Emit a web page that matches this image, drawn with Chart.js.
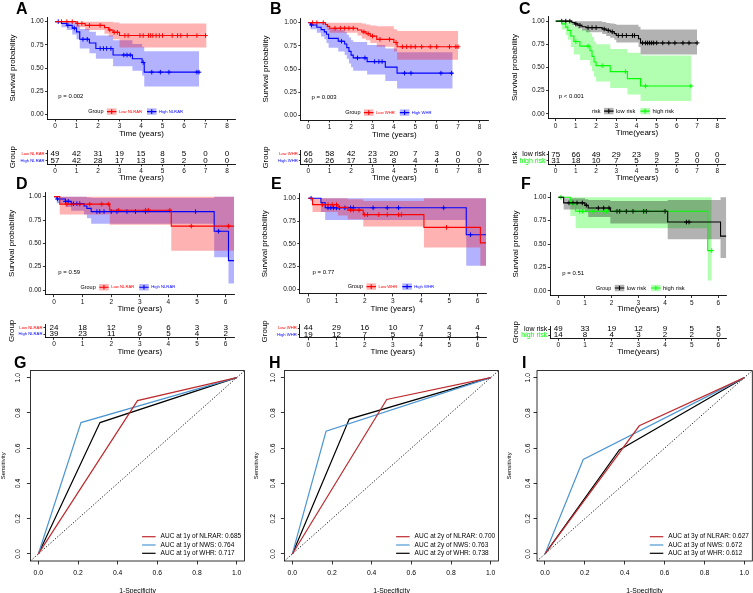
<!DOCTYPE html>
<html>
<head>
<meta charset="utf-8">
<title>Survival curves and time-dependent ROC</title>
<script src="https://cdn.jsdelivr.net/npm/chart.js@4.4.1/dist/chart.umd.min.js"></script>
<style>
  body { margin: 0; background: #fff; }
  #page { position: relative; width: 753px; height: 593px; overflow: hidden; background: #fff; }
  #page canvas { position: absolute; }
  .tag { position: absolute; font: bold 16px "Liberation Sans", Arial, sans-serif; line-height: 1; color: #000; }
</style>
</head>
<body>
<div id="page"></div>
<script>
// ===== data =====
const xTicks8 = [0, 1, 2, 3, 4, 5, 6, 7, 8];
const xTicks6 = [0, 1, 2, 3, 4, 5, 6];
const survTicks = [0, 0.25, 0.5, 0.75, 1];
const rocTicks = [0, 0.2, 0.4, 0.6, 0.8, 1];

// A: NLRAR groups
const aGroups = ['Low NLRAR', 'High NLRAR'];
const aLoT = [0, 0.98, 1.4, 2.3, 2.5, 2.7, 3.0, 7.05];
const aLoS = [1, 0.98, 0.96, 0.935, 0.91, 0.885, 0.85, 0.85];
const aLoU = [1, 1, 1, 1, 1, 0.99, 0.98, 0.98];
const aLoL = [1, 0.94, 0.91, 0.87, 0.84, 0.81, 0.72, 0.72];
const aLoC = [0.3, 0.55, 0.8, 1.05, 1.25, 1.6, 2.1, 2.55, 2.75, 2.9, 3.25, 3.4, 3.95, 4.1, 4.35, 4.45, 4.55, 4.7, 4.85, 5.0, 5.45, 5.7, 5.85, 6.15, 6.6, 7.0];
const aHiT = [0, 0.3, 0.55, 0.8, 1.0, 1.15, 1.6, 1.9, 2.7, 3.6, 4.05, 4.15, 6.7];
const aHiS = [1, 0.98, 0.96, 0.93, 0.89, 0.81, 0.77, 0.71, 0.64, 0.6, 0.56, 0.455, 0.455];
const aHiU = [1, 1, 1, 0.99, 0.97, 0.92, 0.89, 0.85, 0.8, 0.76, 0.73, 0.68, 0.68];
const aHiL = [1, 0.94, 0.91, 0.86, 0.81, 0.71, 0.66, 0.6, 0.52, 0.47, 0.42, 0.3, 0.3];
const aHiC = [0.15, 0.6, 0.9, 1.3, 1.5, 2.1, 2.25, 2.4, 2.6, 3.2, 3.35, 3.5, 4.1, 4.5, 4.9, 5.3, 6.6, 6.7];
const aRiskLo = [49, 42, 31, 19, 15, 8, 5, 0, 0];
const aRiskHi = [57, 42, 28, 17, 13, 3, 2, 0, 0];

// B: WHR groups
const bGroups = ['Low WHR', 'High WHR'];
const bLoT = [0, 0.8, 0.9, 1.0, 2.3, 2.5, 2.7, 2.9, 3.2, 4.0, 4.15, 7.0];
const bLoS = [1, 0.98, 0.96, 0.94, 0.92, 0.9, 0.88, 0.855, 0.82, 0.785, 0.74, 0.74];
const bLoU = [1, 1, 1, 1, 1, 0.99, 0.98, 0.97, 0.96, 0.93, 0.91, 0.91];
const bLoL = [1, 0.95, 0.92, 0.89, 0.86, 0.83, 0.81, 0.78, 0.74, 0.69, 0.6, 0.6];
const bLoC = [0.2, 0.4, 0.7, 1.25, 1.5, 1.7, 1.9, 2.1, 2.6, 2.8, 3.0, 3.35, 3.8, 4.1, 4.4, 4.6, 4.8, 5.0, 5.3, 5.7, 6.0, 6.6, 6.9, 7.0];
const bHiT = [0, 0.1, 0.4, 0.6, 0.75, 0.85, 0.95, 1.4, 1.7, 1.8, 1.9, 2.0, 2.1, 2.75, 3.6, 4.15, 6.75];
const bHiS = [1, 0.975, 0.95, 0.925, 0.9, 0.875, 0.83, 0.8, 0.77, 0.73, 0.69, 0.65, 0.62, 0.58, 0.52, 0.455, 0.455];
const bHiU = [1, 1, 1, 1, 0.99, 0.97, 0.94, 0.92, 0.9, 0.87, 0.84, 0.81, 0.79, 0.76, 0.72, 0.68, 0.68];
const bHiL = [1, 0.93, 0.89, 0.85, 0.82, 0.78, 0.73, 0.69, 0.65, 0.61, 0.56, 0.52, 0.48, 0.44, 0.37, 0.29, 0.29];
const bHiC = [0.15, 1.55, 2.3, 2.65, 3.1, 3.3, 3.45, 4.5, 4.8, 6.2, 6.7];
const bRiskLo = [66, 58, 42, 23, 20, 7, 3, 0, 0];
const bRiskHi = [40, 26, 17, 13, 8, 4, 4, 0, 0];

// C: risk score groups
const cGroups = ['low risk', 'high risk'];
const cLoT = [0, 0.8, 0.95, 1.1, 1.3, 1.5, 2.3, 2.5, 2.7, 2.9, 3.0, 4.1, 4.2, 7.0];
const cLoS = [1, 0.985, 0.97, 0.955, 0.94, 0.93, 0.915, 0.9, 0.885, 0.865, 0.845, 0.81, 0.765, 0.765];
const cLoU = [1, 1, 1, 1, 1, 1, 0.99, 0.98, 0.975, 0.97, 0.96, 0.94, 0.91, 0.91];
const cLoL = [1, 0.96, 0.94, 0.92, 0.9, 0.88, 0.86, 0.84, 0.82, 0.8, 0.77, 0.72, 0.64, 0.64];
const cLoC = [0.3, 0.5, 0.7, 1.0, 1.2, 1.6, 1.8, 2.0, 2.4, 2.6, 2.8, 3.1, 3.3, 3.5, 3.8, 3.9, 4.3, 4.45, 4.55, 4.65, 4.75, 4.85, 5.0, 5.3, 5.6, 5.9, 6.3, 6.6, 7.0];
const cHiT = [0, 0.3, 0.5, 0.6, 0.75, 0.9, 1.2, 1.7, 1.8, 1.9, 2.0, 2.7, 3.55, 4.2, 6.7];
const cHiS = [1, 0.97, 0.935, 0.9, 0.84, 0.78, 0.73, 0.68, 0.62, 0.56, 0.52, 0.455, 0.38, 0.3, 0.3];
const cHiU = [1, 1, 1, 1, 0.98, 0.94, 0.91, 0.87, 0.83, 0.78, 0.75, 0.7, 0.66, 0.63, 0.63];
const cHiL = [1, 0.91, 0.85, 0.8, 0.72, 0.64, 0.58, 0.52, 0.46, 0.4, 0.35, 0.28, 0.21, 0.14, 0.14];
const cHiC = [1.0, 1.6, 2.3, 3.45, 4.45, 6.7];
const cRiskLo = [75, 66, 49, 29, 23, 9, 5, 0, 0];
const cRiskHi = [31, 18, 10, 7, 5, 2, 2, 0, 0];

// D: NLRAR groups, validation set
const dLoT = [0, 0.2, 1.95, 4.1, 6.3];
const dLoS = [1, 0.92, 0.855, 0.685, 0.685];
const dLoU = [1, 1, 1, 1, 1];
const dLoL = [1, 0.81, 0.7, 0.42, 0.42];
const dLoC = [0.45, 0.62, 0.9, 1.25, 1.67, 1.9, 2.25, 3.2, 3.3, 4.05, 4.8, 6.1];
const dHiT = [0, 0.1, 0.4, 0.6, 1.05, 1.15, 1.3, 5.6, 6.1, 6.3];
const dHiS = [1, 0.975, 0.95, 0.925, 0.9, 0.875, 0.84, 0.63, 0.315, 0.315];
const dHiU = [1, 1, 1, 1, 1, 0.99, 0.985, 1, 1, 1];
const dHiL = [1, 0.93, 0.89, 0.85, 0.81, 0.77, 0.71, 0.35, 0.07, 0.07];
const dHiC = [0.12, 0.4, 0.5, 0.68, 0.8, 0.9, 1.5, 1.6, 1.75, 2.0, 2.2, 2.55, 2.85, 3.2, 4.95, 5.75];
const dRiskLo = [24, 18, 12, 9, 6, 3, 3];
const dRiskHi = [39, 23, 11, 6, 5, 4, 2];

// E: WHR groups, validation set
const eLoT = [0, 0.15, 1.05, 1.4, 1.95, 4.1, 6.1, 6.3];
const eLoS = [1, 0.93, 0.9, 0.87, 0.82, 0.68, 0.51, 0.51];
const eLoU = [1, 1, 1, 0.99, 0.97, 1, 1, 1];
const eLoL = [1, 0.85, 0.81, 0.77, 0.69, 0.46, 0.26, 0.26];
const eLoC = [0.5, 0.7, 0.85, 1.0, 1.5, 1.6, 1.8, 2.0, 2.1, 2.5, 2.8, 3.2, 3.3, 4.9];
const eHiT = [0, 0.45, 0.6, 5.6, 6.3];
const eHiS = [1, 0.95, 0.895, 0.6, 0.6];
const eHiU = [1, 1, 1, 1, 1];
const eHiL = [1, 0.85, 0.76, 0.26, 0.26];
const eHiC = [0.1, 0.7, 0.8, 0.9, 1.0, 1.1, 1.3, 1.5, 1.6, 2.3, 2.8, 3.2, 4.8, 5.75];
const eRiskLo = [44, 29, 16, 10, 7, 4, 4];
const eRiskHi = [19, 12, 7, 5, 4, 3, 1];

// F: risk score groups, validation set
const fLoT = [0, 0.2, 1.0, 1.12, 1.95, 4.1, 6.08, 6.3];
const fLoS = [1, 0.94, 0.915, 0.885, 0.85, 0.735, 0.585, 0.585];
const fLoU = [1, 0.99, 0.98, 0.97, 0.96, 0.97, 1, 1];
const fLoL = [1, 0.87, 0.84, 0.79, 0.72, 0.55, 0.35, 0.35];
const fLoC = [0.4, 0.55, 0.7, 0.9, 1.05, 1.5, 1.7, 1.9, 2.2, 2.3, 2.55, 2.8, 3.2, 3.3, 4.0, 4.8, 4.9];
const fHiT = [0, 0.45, 0.65, 5.6, 5.75];
const fHiS = [1, 0.93, 0.85, 0.43, 0.43];
const fHiU = [1, 1, 1, 1, 1];
const fHiL = [1, 0.8, 0.67, 0.11, 0.11];
const fHiC = [0.1, 0.8, 0.9, 1.3, 1.7, 1.8, 2.9, 3.25, 5.75];
const fRiskLo = [49, 33, 19, 12, 9, 5, 5];
const fRiskHi = [14, 8, 4, 3, 2, 2, 0];

// G-I: ROC elbows, order NLRAR, NWS, WHR
const rocNames = ['NLRAR', 'NWS', 'WHR'];
const gFpr = [0.5, 0.215, 0.311];
const gTpr = [0.87, 0.745, 0.745];
const gAuc = ['0.685', '0.764', '0.717'];
const hFpr = [0.476, 0.17, 0.287];
const hTpr = [0.876, 0.696, 0.765];
const hAuc = ['0.700', '0.763', '0.738'];
const iFpr = [0.473, 0.192, 0.373];
const iTpr = [0.727, 0.536, 0.59];
const iAuc = ['0.627', '0.672', '0.612'];

// ===== helpers =====
const FONT = '"Liberation Sans", Arial, sans-serif';
const page = document.getElementById('page');
const RED = {line: '#FF0000', band: 'rgba(255,0,0,0.3)'};
const BLUE = {line: '#0000FF', band: 'rgba(0,0,255,0.3)'};
const BLACK = {line: '#000000', band: 'rgba(0,0,0,0.3)'};
const GREEN = {line: '#00FF00', band: 'rgba(0,255,0,0.3)'};
const rocColors = ['#BE2A2E', '#4D96D1', '#000000'];
const rocLim = [-0.04, 1.04];

function addCanvas(x, y, w, h) {
  const c = document.createElement('canvas');
  c.width = w; c.height = h;
  c.style.left = x + 'px'; c.style.top = y + 'px';
  c.style.width = w + 'px'; c.style.height = h + 'px';
  page.appendChild(c);
  return c;
}
const xy = (xs, ys) => xs.map((x, i) => ({x, y: ys[i]}));
function stepAt(ts, ss, x) {
  let v = ss[0];
  for (let i = 0; i < ts.length; i++) if (ts[i] <= x) v = ss[i];
  return v;
}
function curve(t, s, u, l, c, col, label, legendColor, tableColor) {
  return {t, s, u, l, c, color: col.line, band: col.band, label, legendColor, tableColor};
}

// legend drawn inside the plot, like survminer's legend at the bottom
const kmLegend = {
  id: 'kmLegend',
  afterDatasetsDraw(chart, args, o) {
    if (!o.items) return;
    const {ctx, chartArea: a} = chart;
    const y = chart.scales.y.getPixelForValue(o.y);
    ctx.save();
    ctx.textBaseline = 'middle';
    ctx.font = o.titleSize + 'px ' + FONT;
    const tw = ctx.measureText(o.title).width;
    ctx.font = o.size + 'px ' + FONT;
    const key = 9.5, gap = 2.5;
    const widths = o.items.map(it => ctx.measureText(it.label).width);
    const total = tw + gap + widths.reduce((s, w) => s + key + gap + w + gap * 2, 0);
    let x = (a.left + a.right) / 2 + o.dx - total / 2;
    ctx.fillStyle = '#000';
    ctx.font = o.titleSize + 'px ' + FONT;
    ctx.fillText(o.title, x, y);
    x += tw + gap + 1;
    o.items.forEach((it, i) => {
      ctx.fillStyle = it.band;
      ctx.fillRect(x, y - 3.2, key, 6.4);
      ctx.strokeStyle = it.color;
      ctx.lineWidth = 1.1;
      ctx.beginPath();
      ctx.moveTo(x, y); ctx.lineTo(x + key, y);
      ctx.moveTo(x + key / 2, y - 2.3); ctx.lineTo(x + key / 2, y + 2.3);
      ctx.stroke();
      x += key + gap;
      ctx.fillStyle = it.text;
      ctx.font = o.size + 'px ' + FONT;
      ctx.fillText(it.label, x, y);
      x += widths[i] + gap * 2;
    });
    ctx.restore();
  }
};

const pLabel = {
  id: 'pLabel',
  afterDatasetsDraw(chart, args, o) {
    if (!o.text) return;
    const {ctx, scales} = chart;
    ctx.save();
    ctx.font = o.size + 'px ' + FONT;
    ctx.fillStyle = '#000';
    ctx.textBaseline = 'middle';
    ctx.fillText(o.text, scales.x.getPixelForValue(o.x), scales.y.getPixelForValue(o.y));
    ctx.restore();
  }
};

const riskNumbers = {
  id: 'riskNumbers',
  afterDatasetsDraw(chart, args, o) {
    const {ctx} = chart;
    ctx.save();
    ctx.font = o.size + 'px ' + FONT;
    ctx.fillStyle = '#000';
    ctx.textAlign = 'center';
    ctx.textBaseline = 'middle';
    chart.data.datasets.forEach((ds, i) => {
      chart.getDatasetMeta(i).data.forEach((pt, j) => ctx.fillText(String(ds.counts[j]), pt.x, pt.y));
    });
    ctx.restore();
  }
};

// base-R look: box, rotated y labels, legend without frame
const rocDeco = {
  id: 'rocDeco',
  afterDatasetsDraw(chart, args, o) {
    const {ctx, chartArea: a, scales: {y}} = chart;
    ctx.save();
    ctx.strokeStyle = '#000';
    ctx.lineWidth = 0.8;
    ctx.strokeRect(a.left, a.top, a.right - a.left, a.bottom - a.top);
    ctx.font = o.tickSize + 'px ' + FONT;
    ctx.fillStyle = '#000';
    ctx.textAlign = 'center';
    ctx.textBaseline = 'middle';
    y.ticks.forEach(t => {
      ctx.save();
      ctx.translate(a.left - o.labelGap, y.getPixelForValue(t.value));
      ctx.rotate(-Math.PI / 2);
      ctx.fillText(t.value.toFixed(1), 0, 0);
      ctx.restore();
    });
    ctx.font = o.legendSize + 'px ' + FONT;
    ctx.textAlign = 'left';
    const lx = a.right - 102.5;
    o.items.forEach((it, i) => {
      const yy = a.bottom - 24.3 + i * 8.3;
      ctx.strokeStyle = it.color;
      ctx.lineWidth = 1.2;
      ctx.beginPath(); ctx.moveTo(lx, yy); ctx.lineTo(lx + 13.5, yy); ctx.stroke();
      ctx.fillStyle = '#000';
      ctx.fillText(it.text, lx + 18.5, yy);
    });
    ctx.restore();
  }
};

function axisX(min, max, vals, title, height) {
  return {
    type: 'linear', min, max,
    afterBuildTicks: s => { s.ticks = vals.map(v => ({value: v})); },
    afterFit: s => { s.height = height; },
    ticks: {font: {size: 6.5, family: FONT}, color: '#111', padding: 1, autoSkip: false, maxRotation: 0},
    grid: {drawOnChartArea: false, drawTicks: true, tickLength: 2.5, color: '#000', lineWidth: 0.8},
    border: {display: true, color: '#000', width: 0.9},
    title: {display: true, text: title, font: {size: 8, family: FONT}, color: '#000', padding: 0}
  };
}

function kmPanel(p) {
  const g = p.g;
  const lh = 8 * 1.2;
  const x0 = Math.floor(g.yTitleX - lh / 2);
  const y0 = Math.floor(g.T - 8);
  const w = Math.ceil(g.R + 10 - x0);
  const h = Math.ceil(g.xTitleY + lh / 2 - y0);
  const datasets = [];
  p.curves.forEach(c => {
    datasets.push({data: xy(c.t, c.u), stepped: true, borderWidth: 0, pointRadius: 0, fill: '+1', backgroundColor: c.band});
    datasets.push({data: xy(c.t, c.l), stepped: true, borderWidth: 0, pointRadius: 0, fill: false});
  });
  p.curves.forEach(c => datasets.push({
    data: xy(c.t, c.s), stepped: true, borderColor: c.color, borderWidth: 1.1, pointRadius: 0, fill: false
  }));
  p.curves.forEach(c => datasets.push({
    data: c.c.map(x => ({x, y: stepAt(c.t, c.s, x)})),
    showLine: false, pointStyle: 'cross', pointRadius: 2.3, pointBorderWidth: 1,
    pointBorderColor: c.color, borderColor: c.color, fill: false
  }));
  new Chart(addCanvas(x0, y0, w, h), {
    type: 'line',
    data: {datasets},
    plugins: [kmLegend, pLabel],
    options: {
      responsive: false, animation: false, events: [],
      layout: {padding: {left: 0, right: x0 + w - g.R, top: g.T - y0, bottom: 0}},
      plugins: {
        legend: {display: false}, tooltip: {enabled: false},
        filler: {drawTime: 'beforeDatasetsDraw'},
        kmLegend: {
          title: p.legendTitle, titleSize: 5.5, size: p.legendSize, y: 0.03, dx: p.legendDx,
          items: p.curves.map(c => ({label: c.label, color: c.color, band: c.band, text: c.legendColor}))
        },
        pLabel: {text: p.p, x: 0.15, y: 0.19, size: 6}
      },
      scales: {
        x: axisX(g.xmin, g.xmax, p.xt, p.xTitle, y0 + h - g.B),
        y: {
          type: 'linear', min: -0.05, max: 1.05,
          afterBuildTicks: s => { s.ticks = survTicks.map(v => ({value: v})); },
          afterFit: s => { s.width = g.L - x0; },
          ticks: {font: {size: 6.5, family: FONT}, color: '#111', padding: 1.5, callback: v => v.toFixed(2)},
          grid: {drawOnChartArea: false, drawTicks: true, tickLength: 2.5, color: '#000', lineWidth: 0.8},
          border: {display: true, color: '#000', width: 0.9},
          title: {display: true, text: 'Survival probability', font: {size: 8, family: FONT}, color: '#000', padding: 0}
        }
      }
    }
  });

  // number-at-risk table under the plot, same time axis
  const ty0 = Math.floor(g.tabT - 4);
  const th = Math.ceil(g.tabXTitleY + lh / 2 - ty0);
  const labels = p.curves.map(c => c.label);
  const rows = p.curves.map((c, i) => ({
    data: p.xt.map(t => ({x: t, y: c.label})), counts: p.risk[i], showLine: false, pointRadius: 0
  }));
  new Chart(addCanvas(x0, ty0, w, th), {
    type: 'line',
    data: {datasets: rows},
    plugins: [riskNumbers],
    options: {
      responsive: false, animation: false, events: [],
      layout: {padding: {left: 0, right: x0 + w - g.R, top: g.tabT - ty0, bottom: 0}},
      plugins: {legend: {display: false}, tooltip: {enabled: false}, riskNumbers: {size: 8}},
      scales: {
        x: axisX(g.xmin, g.xmax, p.xt, p.xTitle, ty0 + th - g.tabB),
        y: {
          type: 'category', labels, offset: true,
          afterFit: s => { s.width = g.L - x0; },
          ticks: {font: {size: p.tableSize, family: FONT}, color: c => p.curves[c.index].tableColor, padding: 1, autoSkip: false},
          grid: {drawOnChartArea: false, drawTicks: true, tickLength: 2, color: '#000', lineWidth: 0.8, offset: false},
          border: {display: true, color: '#000', width: 0.9},
          title: {display: true, text: p.tableTitle, font: {size: 8, family: FONT}, color: '#000', padding: 0}
        }
      }
    }
  });
}

function rocPanel(p) {
  const g = p.g;
  const x0 = Math.floor(g.yTitleX - 6 * 1.2 / 2);
  const y0 = Math.floor(g.T - 6);
  const w = Math.ceil(g.R + 4 - x0);
  const h = Math.ceil(g.xTitleY + 6.8 * 1.2 / 2 - y0);
  const datasets = p.fpr.map((f, i) => ({
    data: xy([0, f, 1], [0, p.tpr[i], 1]), borderColor: rocColors[i], borderWidth: 1.2, pointRadius: 0, fill: false
  }));
  datasets.push({
    data: xy(rocLim, rocLim), borderColor: '#000', borderWidth: 0.9, borderDash: [1.2, 1.8], pointRadius: 0, fill: false
  });
  const tickCfg = {
    afterBuildTicks: s => { s.ticks = rocTicks.map(v => ({value: v})); },
    grid: {drawOnChartArea: false, drawTicks: true, tickLength: 3.5, color: '#000', lineWidth: 0.8},
    border: {display: false}
  };
  new Chart(addCanvas(x0, y0, w, h), {
    type: 'line',
    data: {datasets},
    plugins: [rocDeco],
    options: {
      responsive: false, animation: false, events: [],
      layout: {padding: {left: 0, right: x0 + w - g.R, top: g.T - y0, bottom: 0}},
      plugins: {
        legend: {display: false}, tooltip: {enabled: false},
        rocDeco: {
          tickSize: 6.8, labelGap: g.labelGap, legendSize: 6.5,
          items: rocNames.map((n, i) => ({color: rocColors[i], text: 'AUC at ' + p.year + ' of ' + n + ': ' + p.auc[i]}))
        }
      },
      scales: {
        x: Object.assign({
          type: 'linear', min: rocLim[0], max: rocLim[1],
          afterFit: s => { s.height = y0 + h - g.B; },
          ticks: {font: {size: 6.8, family: FONT}, color: '#000', padding: 4.5, autoSkip: false, maxRotation: 0, callback: v => v.toFixed(1)},
          title: {display: true, text: '1-Specificity', font: {size: 6.8, family: FONT}, color: '#000', padding: 0}
        }, tickCfg),
        y: Object.assign({
          type: 'linear', min: rocLim[0], max: rocLim[1],
          afterFit: s => { s.width = g.L - x0; },
          ticks: {display: false},
          title: {display: true, text: 'Sensitivity', font: {size: 6, family: FONT}, color: '#000', padding: 0}
        }, tickCfg)
      }
    }
  });
}

// ===== layout =====
kmPanel({
  g: {L: 47.5, R: 235.6, T: 17, B: 119, xmin: -0.35, xmax: 8.4, yTitleX: 13.5, xTitleY: 133.5, tabT: 150.5, tabB: 164, tabXTitleY: 177.7},
  curves: [curve(aLoT, aLoS, aLoU, aLoL, aLoC, RED, aGroups[0], '#FF0000', '#FF0000'),
           curve(aHiT, aHiS, aHiU, aHiL, aHiC, BLUE, aGroups[1], '#0000FF', '#0000FF')],
  xt: xTicks8, xTitle: 'Time (years)', legendTitle: 'Group', legendSize: 4.2, legendDx: -4,
  tableTitle: 'Group', tableSize: 4.2, p: 'p = 0.002', risk: [aRiskLo, aRiskHi]
});
kmPanel({
  g: {L: 300.8, R: 488, T: 18, B: 120, xmin: -0.35, xmax: 8.4, yTitleX: 266.7, xTitleY: 134.5, tabT: 150.8, tabB: 164.2, tabXTitleY: 178},
  curves: [curve(bLoT, bLoS, bLoU, bLoL, bLoC, RED, bGroups[0], '#FF0000', '#FF0000'),
           curve(bHiT, bHiS, bHiU, bHiL, bHiC, BLUE, bGroups[1], '#0000FF', '#0000FF')],
  xt: xTicks8, xTitle: 'Time (years)', legendTitle: 'Group', legendSize: 4.2, legendDx: -4,
  tableTitle: 'Group', tableSize: 4.2, p: 'p = 0.003', risk: [bRiskLo, bRiskHi]
});
kmPanel({
  g: {L: 548.6, R: 725.4, T: 16.5, B: 118.5, xmin: -0.35, xmax: 8.4, yTitleX: 515, xTitleY: 132.7, tabT: 150.5, tabB: 164, tabXTitleY: 177.5},
  curves: [curve(cLoT, cLoS, cLoU, cLoL, cLoC, BLACK, cGroups[0], '#000000', '#000000'),
           curve(cHiT, cHiS, cHiU, cHiL, cHiC, GREEN, cGroups[1], '#000000', '#00FF00')],
  xt: xTicks8, xTitle: 'Time(years)', legendTitle: 'risk', legendSize: 5.8, legendDx: -2,
  tableTitle: 'risk', tableSize: 7, p: 'p < 0.001', risk: [cRiskLo, cRiskHi]
});
kmPanel({
  g: {L: 45.4, R: 234.2, T: 192, B: 294.7, xmin: -0.3, xmax: 6.3, yTitleX: 12.7, xTitleY: 308.3, tabT: 324.3, tabB: 337.3, tabXTitleY: 352},
  curves: [curve(dLoT, dLoS, dLoU, dLoL, dLoC, RED, aGroups[0], '#FF0000', '#FF0000'),
           curve(dHiT, dHiS, dHiU, dHiL, dHiC, BLUE, aGroups[1], '#0000FF', '#0000FF')],
  xt: xTicks6, xTitle: 'Time (years)', legendTitle: 'Group', legendSize: 4.2, legendDx: -10,
  tableTitle: 'Group', tableSize: 4.2, p: 'p = 0.59', risk: [dRiskLo, dRiskHi]
});
kmPanel({
  g: {L: 299.8, R: 486, T: 193.7, B: 293.9, xmin: -0.3, xmax: 6.3, yTitleX: 265.7, xTitleY: 308.5, tabT: 324.8, tabB: 337.8, tabXTitleY: 352},
  curves: [curve(eLoT, eLoS, eLoU, eLoL, eLoC, RED, bGroups[0], '#FF0000', '#FF0000'),
           curve(eHiT, eHiS, eHiU, eHiL, eHiC, BLUE, bGroups[1], '#0000FF', '#0000FF')],
  xt: xTicks6, xTitle: 'Time (years)', legendTitle: 'Group', legendSize: 4.2, legendDx: 0,
  tableTitle: 'Group', tableSize: 4.2, p: 'p = 0.77', risk: [eRiskLo, eRiskHi]
});
kmPanel({
  g: {L: 550.3, R: 726.4, T: 192.6, B: 295.5, xmin: -0.3, xmax: 6.3, yTitleX: 516.7, xTitleY: 309, tabT: 325.3, tabB: 338.3, tabXTitleY: 352},
  curves: [curve(fLoT, fLoS, fLoU, fLoL, fLoC, BLACK, cGroups[0], '#000000', '#000000'),
           curve(fHiT, fHiS, fHiU, fHiL, fHiC, GREEN, cGroups[1], '#000000', '#00FF00')],
  xt: xTicks6, xTitle: 'Time(years)', legendTitle: 'Group', legendSize: 5.8, legendDx: 4,
  tableTitle: 'Group', tableSize: 7, p: 'p = 0.51', risk: [fRiskLo, fRiskHi]
});

rocPanel({g: {L: 30.4, R: 244.6, T: 370.6, B: 561, yTitleX: 4.2, xTitleY: 590, labelGap: 12.3},
  fpr: gFpr, tpr: gTpr, auc: gAuc, year: '1y'});
rocPanel({g: {L: 284.4, R: 498.6, T: 370.6, B: 561, yTitleX: 256.7, xTitleY: 590, labelGap: 11},
  fpr: hFpr, tpr: hTpr, auc: hAuc, year: '2y'});
rocPanel({g: {L: 537, R: 752.3, T: 370.6, B: 561, yTitleX: 510, xTitleY: 590, labelGap: 8.5},
  fpr: iFpr, tpr: iTpr, auc: iAuc, year: '3y'});

// panel letters
[['A', 16, 1], ['B', 270, 1], ['C', 519, 1],
 ['D', 16, 176], ['E', 271, 176], ['F', 521, 176],
 ['G', 14, 354.5], ['H', 269, 354.5], ['I', 522, 354.5]].forEach(([t, x, y]) => {
  const d = document.createElement('div');
  d.className = 'tag';
  d.textContent = t;
  d.style.left = x + 'px';
  d.style.top = y + 'px';
  page.appendChild(d);
});
</script>
</body>
</html>
